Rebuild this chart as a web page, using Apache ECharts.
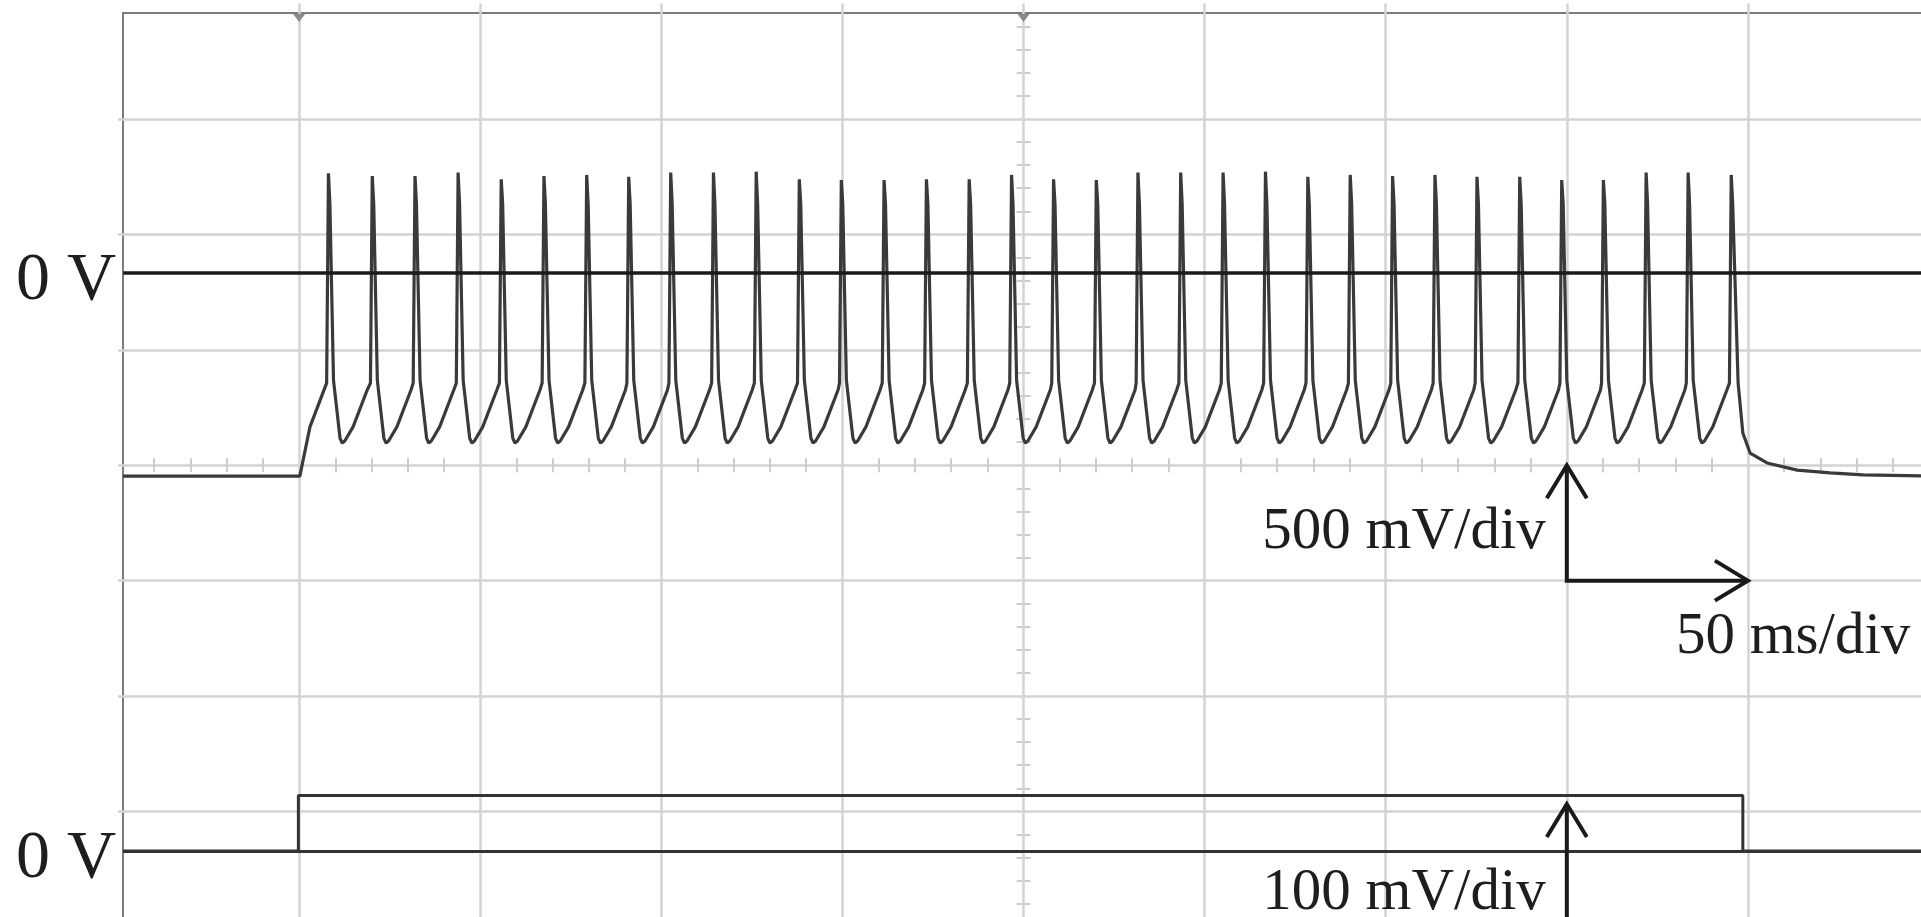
<!DOCTYPE html>
<html>
<head>
<meta charset="utf-8">
<script src="https://cdn.jsdelivr.net/npm/echarts@6/dist/echarts.min.js"></script>
<style>
  html, body { margin: 0; padding: 0; background: #ffffff; }
  #c { width: 1921px; height: 917px; }
</style>
</head>
<body>
<div id="c"></div>
<script>
// ---------------- data ----------------
// Channel 1 (membrane voltage, volts) : spike times (ms) and peak voltages (V)
const spikeTimesMs = [58.1, 70.2, 82.0, 93.9, 105.8, 117.6, 129.4, 141.0,
  152.6, 164.4, 176.2, 188.1, 199.7, 211.5, 223.2, 235.0, 246.7, 258.3, 270.1, 281.6, 293.4, 305.1, 316.8,
  328.5, 340.2, 351.9, 363.6, 375.2, 387.0, 398.6, 410.1, 421.9, 433.5, 445.4];
const spikePeaksV = [0.432, 0.420, 0.420, 0.435, 0.406, 0.420, 0.425, 0.417,
  0.435, 0.435, 0.439, 0.406, 0.403, 0.403, 0.406, 0.406, 0.425, 0.406, 0.403, 0.435, 0.435, 0.435, 0.439,
  0.417, 0.425, 0.420, 0.425, 0.417, 0.417, 0.403, 0.403, 0.435, 0.435, 0.425];
// one firing cycle: ms after the spike, volts (null = that spike's peak)
const cycleOffsetsMs = [-0.5, 0, 0.4, 1.4, 3.2, 3.8, 4.5, 6.8, 10.7];
const cycleVoltsV = [-0.477, null, 0.30, -0.465, -0.715, -0.737, -0.728, -0.667, -0.507];
// resting level and rise at stimulus onset
const onsetTimesMs = [1.4, 50.2, 53.0];
const onsetVoltsV = [-0.88, -0.88, -0.667];
// decay after the last spike
const decayTimesMs = [447.3, 448.6, 450.6, 455.3, 463.6, 472.7, 481.8, 500];
const decayVoltsV = [-0.477, -0.693, -0.78, -0.823, -0.854, -0.866, -0.875, -0.88];
// Channel 2 (stimulus, volts)
const stimTimesMs = [1.4, 49.8, 49.8, 448.6, 448.6, 500];
const stimVoltsV = [0, 0, 0.048, 0.048, 0, 0];
// scale bars: [time ms, volts] origin and the size of one division
const ch1ScaleBar = [400, -1.333];
const ch2ScaleBar = [400, -0.0593];
const ch1VoltsPerDiv = 0.5, ch2VoltsPerDiv = 0.1, msPerDiv = 50;
const ch1ScaleText = '500 mV/div', ch2ScaleText = '100 mV/div', timeScaleText = '50 ms/div';
const zeroLabel = '0 V';
// screen markers on the top edge: trigger time and centre (ms)
const topMarkersMs = [50, 250];

// ---------------- build series data ----------------
const ch1Data = [];
onsetTimesMs.forEach((t, i) => ch1Data.push([t, onsetVoltsV[i]]));
spikeTimesMs.forEach((ts, i) => {
  const last = i === spikeTimesMs.length - 1;
  cycleOffsetsMs.forEach((o, j) => {
    if (last && j > 2) return;
    ch1Data.push([+(ts + o).toFixed(2), j === 1 ? spikePeaksV[i] : cycleVoltsV[j]]);
  });
});
decayTimesMs.forEach((t, i) => ch1Data.push([t, decayVoltsV[i]]));
const ch2Data = stimTimesMs.map((t, i) => [t, stimVoltsV[i]]);

// ---------------- chart ----------------
const FONT = '"Liberation Serif", "DejaVu Serif", serif';
const GRID_COLOR = '#d3d3d3';
const TRACE = '#3a3a3a';
const chart = echarts.init(document.getElementById('c'), null, { renderer: 'canvas' });

const hidden = { show: false };
const zeroAxisLabel = {
  show: true, customValues: [0], formatter: () => '{z|' + zeroLabel + '}', margin: 2,
  rich: { z: { fontFamily: FONT, fontSize: 68, color: '#1e1e1e', padding: [16, 0, 0, 0] } }
};
const option = {
  animation: false,
  backgroundColor: '#ffffff',
  grid: [
    { left: 118, top: 3.6, width: 1811, height: 923.2, show: false, outerBoundsMode: 'none', containLabel: false },
    { left: 118, top: 458.2, width: 1811, height: 14, show: false, outerBoundsMode: 'none', containLabel: false },
    { left: 1016.5, top: 3.6, width: 14, height: 923.2, show: false, outerBoundsMode: 'none', containLabel: false },
    { left: 123, top: 13, right: -30, bottom: -30, show: true, borderColor: '#7c7c7c', borderWidth: 2,
      backgroundColor: 'transparent', outerBoundsMode: 'none', containLabel: false }
  ],
  xAxis: [
    { type: 'value', gridIndex: 0, min: 0, max: 500, interval: msPerDiv,
      axisLine: hidden, axisTick: hidden, axisLabel: hidden,
      splitLine: { show: true, showMinLine: false, showMaxLine: false, lineStyle: { color: GRID_COLOR, width: 2.5 } } },
    { type: 'value', gridIndex: 1, min: 0, max: 500, interval: msPerDiv,
      axisLine: hidden, axisTick: hidden, axisLabel: hidden, splitLine: hidden,
      minorTick: { show: false, splitNumber: 5 },
      minorSplitLine: { show: true, lineStyle: { color: '#cdcdcd', width: 2 } } },
    { type: 'value', gridIndex: 2, min: 0, max: 1, show: false },
    { type: 'value', gridIndex: 3, min: 0, max: 1, show: false }
  ],
  yAxis: [
    { type: 'value', gridIndex: 0, min: -4, max: 4, interval: 1,
      axisLine: hidden, axisTick: hidden, axisLabel: hidden,
      splitLine: { show: true, showMinLine: false, showMaxLine: false, lineStyle: { color: GRID_COLOR, width: 2.5 } } },
    { type: 'value', gridIndex: 0, min: -2.8328, max: 1.1672, position: 'left',
      axisLine: hidden, axisTick: hidden, splitLine: hidden, axisLabel: zeroAxisLabel },
    { type: 'value', gridIndex: 0, min: -0.0657, max: 0.7343, position: 'left',
      axisLine: hidden, axisTick: hidden, splitLine: hidden, axisLabel: zeroAxisLabel },
    { type: 'value', gridIndex: 1, min: 0, max: 1, show: false },
    { type: 'value', gridIndex: 2, min: -4, max: 4, interval: 1,
      axisLine: hidden, axisTick: hidden, axisLabel: hidden, splitLine: hidden,
      minorTick: { show: false, splitNumber: 5 },
      minorSplitLine: { show: true, lineStyle: { color: '#cdcdcd', width: 2 } } },
    { type: 'value', gridIndex: 3, min: 0, max: 1, show: false }
  ],
  series: [
    { name: 'ch1', type: 'line', xAxisIndex: 0, yAxisIndex: 1, data: ch1Data,
      symbol: 'none', smooth: false, z: 5,
      lineStyle: { color: TRACE, width: 3.2 },
      markLine: { silent: true, symbol: ['none', 'none'], label: { show: false }, z: 6,
        lineStyle: { color: '#1a1a1a', width: 3.5, type: 'solid' },
        data: [[{ coord: [onsetTimesMs[0], 0] }, { coord: [500, 0] }]] } },
    { name: 'ch2', type: 'line', xAxisIndex: 0, yAxisIndex: 2, data: ch2Data,
      symbol: 'none', z: 5,
      lineStyle: { color: '#333333', width: 3 },
      markLine: { silent: true, symbol: ['none', 'none'], label: { show: false },
        lineStyle: { color: '#333333', width: 3, type: 'solid' },
        data: [[{ coord: [stimTimesMs[0], 0] }, { coord: [500, 0] }]] } }
  ]
};
chart.setOption(option);

// ---------------- scale-bar arrows and labels (positioned through the axes) ----------------
function px(ch, t, v) {
  return chart.convertToPixel({ xAxisIndex: 0, yAxisIndex: ch }, [t, v]);
}
function chevron(tip, from) {
  const dx = tip[0] - from[0], dy = tip[1] - from[1];
  const L = Math.hypot(dx, dy), ux = dx / L, uy = dy / L;
  const back = 33, side = 20;
  return [
    [tip[0] - ux * back - uy * side, tip[1] - uy * back + ux * side],
    tip,
    [tip[0] - ux * back + uy * side, tip[1] - uy * back - ux * side]
  ];
}
const strokeStyle = { stroke: '#1a1a1a', lineWidth: 4, fill: null, lineJoin: 'miter' };
const o1 = px(1, ch1ScaleBar[0], ch1ScaleBar[1]);
const v1 = px(1, ch1ScaleBar[0], ch1ScaleBar[1] + ch1VoltsPerDiv);
const h1 = px(1, ch1ScaleBar[0] + msPerDiv, ch1ScaleBar[1]);
const o2 = px(2, ch2ScaleBar[0], ch2ScaleBar[1]);
const v2 = px(2, ch2ScaleBar[0], ch2ScaleBar[1] + ch2VoltsPerDiv);
const textStyle = (txt, align) => ({ text: txt, font: '59px ' + FONT, fill: '#1e1e1e', textAlign: align, textVerticalAlign: 'middle' });
const markers = topMarkersMs.map(t => {
  const x = px(1, t, 0)[0];
  return { type: 'polygon', z: 20, shape: { points: [[x - 6, 14], [x + 6, 14], [x, 22]] }, style: { fill: '#8a8a8a' } };
});
chart.setOption({
  graphic: [
    { type: 'polyline', z: 20, shape: { points: [v1, o1, h1] }, style: strokeStyle },
    { type: 'polyline', z: 20, shape: { points: chevron(v1, o1) }, style: strokeStyle },
    { type: 'polyline', z: 20, shape: { points: chevron(h1, o1) }, style: strokeStyle },
    { type: 'polyline', z: 20, shape: { points: [o2, v2] }, style: strokeStyle },
    { type: 'polyline', z: 20, shape: { points: chevron(v2, o2) }, style: strokeStyle },
    { type: 'text', z: 20, x: o1[0] - 21, y: o1[1] - 48, style: textStyle(ch1ScaleText, 'right') },
    { type: 'text', z: 20, x: h1[0] - 72, y: o1[1] + 57, style: textStyle(timeScaleText, 'left') },
    { type: 'text', z: 20, x: o2[0] - 21, y: v2[1] + 89, style: textStyle(ch2ScaleText, 'right') }
  ].concat(markers)
});
</script>
</body>
</html>
